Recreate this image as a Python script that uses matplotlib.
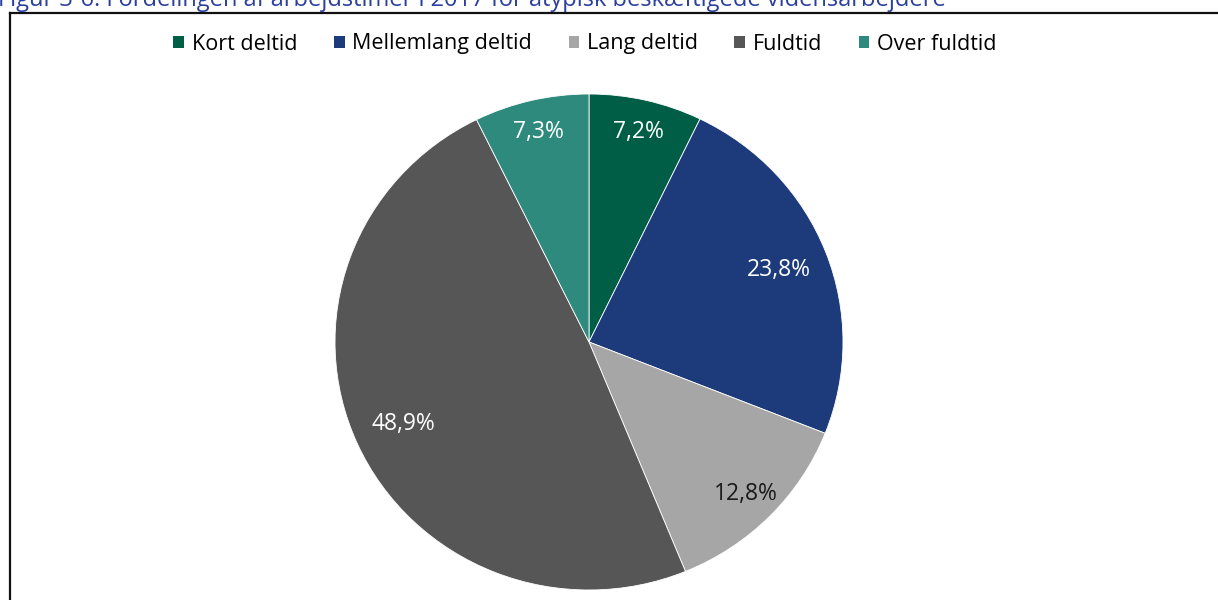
import numpy as np
import matplotlib
matplotlib.use("Agg")
import matplotlib.pyplot as plt
from matplotlib.lines import Line2D
from matplotlib.patches import Patch

plt.rcParams['font.family'] = ['Open Sans', 'DejaVu Sans']

categories = ["Kort deltid", "Mellemlang deltid", "Lang deltid", "Fuldtid", "Over fuldtid"]
shares = [7.2, 23.8, 12.8, 48.9, 7.3]
labels = ["7,2%", "23,8%", "12,8%", "48,9%", "7,3%"]
title = "Figur 3-6. Fordelingen af arbejdstimer i 2017 for atypisk beskæftigede vidensarbejdere"

colors = ["#005E46", "#1D3B7B", "#A6A6A6", "#565656", "#2E8A7C"]
label_colors = ["white", "white", "#1a1a1a", "white", "white"]
label_r = [0.87, 0.80, 0.87, 0.80, 0.87]

W, H = 1218, 600
fig = plt.figure(figsize=(W / 100, H / 100), dpi=100)
fig.patch.set_facecolor("white")

# frame around the chart (right and bottom edges are outside the crop)
fig.add_artist(Line2D([9.5 / W, 9.5 / W], [0, 1 - 12.5 / H], color="#111111", lw=1.6))
fig.add_artist(Line2D([9.5 / W, 1], [1 - 12.5 / H, 1 - 12.5 / H], color="#111111", lw=1.6))

# title, cut off at top of the picture as in the source crop
fig.text(-2 / W, 1 - 5.5 / H, title, color="#2A3F9E", fontsize=17, ha="left", va="baseline")

# pie area: x 335..843, y 94..590 (pixels)
ax = fig.add_axes([335 / W, (H - 590) / H, 508 / W, 496 / H])
wedges, _ = ax.pie(shares, colors=colors, startangle=90, counterclock=False,
                   wedgeprops=dict(edgecolor="white", linewidth=0.6))
ax.set_aspect("auto")
ax.set_xlim(-1, 1)
ax.set_ylim(-1, 1)

for w, lab, c, r in zip(wedges, labels, label_colors, label_r):
    ang = np.deg2rad((w.theta1 + w.theta2) / 2)
    ax.text(r * np.cos(ang), r * np.sin(ang), lab, color=c, fontsize=16.5,
            ha="center", va="center")

handles = [Patch(facecolor=c, edgecolor="none") for c in colors]
fig.legend(handles, categories, loc="center", bbox_to_anchor=(585 / W, 1 - 44 / H),
           ncol=5, frameon=False, fontsize=15.5, handlelength=0.5, handleheight=0.5,
           handletextpad=0.35, columnspacing=1.7)

fig.savefig("out.png", dpi=100, facecolor="white")
